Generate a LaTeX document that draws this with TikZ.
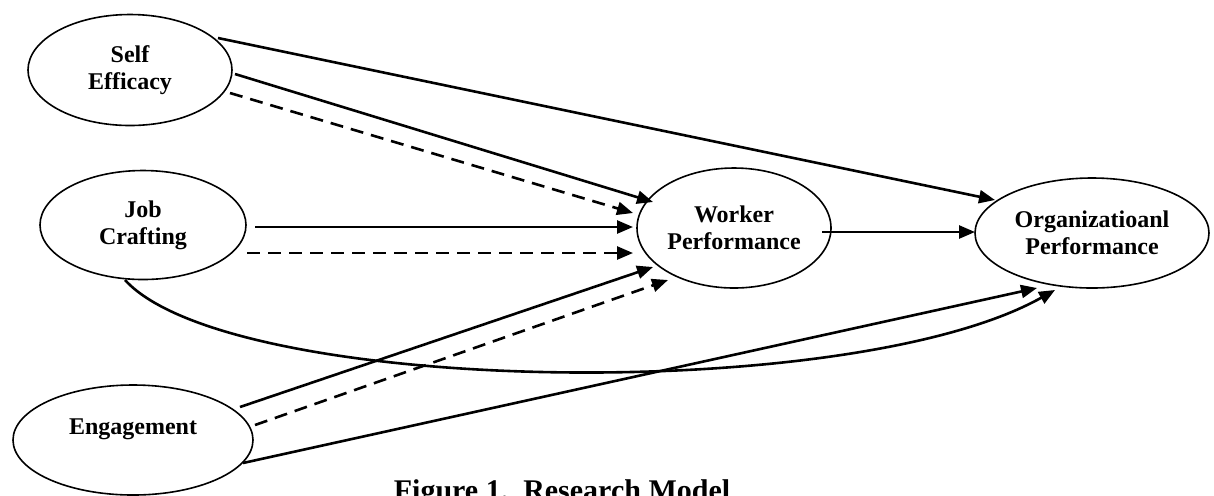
\documentclass[tikz,border=0pt]{standalone}
\usepackage{fontspec}
\setmainfont{Liberation Serif}
\usetikzlibrary{arrows.meta,shapes.geometric,calc}
\begin{document}
\begin{tikzpicture}[x=0.5pt,y=-0.5pt,
  var/.style={ellipse,draw,line width=0.8pt,inner sep=0pt,align=center,
    font=\bfseries\fontsize{12pt}{13.5pt}\selectfont},
  conn/.style={line width=1.3pt,-{Triangle[length=8pt,width=6.5pt]}},
  dconn/.style={conn,dash pattern=on 6.5pt off 4pt}]
\useasboundingbox (0,0) rectangle (1214,495);
\fill[white] (0,0) rectangle (1214,495);
\clip (0,0) rectangle (1214,495);
% variables
\node[var,minimum width=102pt,minimum height=55.5pt] (SE) at (130,70) {Self\\Efficacy};
\node[var,minimum width=103pt,minimum height=54.5pt] (JC) at (143,225) {Job\\Crafting};
\node[var,minimum width=120pt,minimum height=55pt] (EN) at (133,440) {Engagement\\\phantom{E}};
\node[var,minimum width=97pt,minimum height=60pt] (WP) at (734,228) {Worker\\Performance};
\node[var,minimum width=117pt,minimum height=55pt] (OP) at (1092,233) {Organizatioanl\\Performance};
% connectors
\draw[conn]  ($(SE.center)+(88,-32)$) -- ($(OP.center)+(-97,-33)$);
\draw[conn]  ($(SE.center)+(105,4)$)  -- ($(WP.center)+(-81,-26)$);
\draw[dconn] ($(SE.center)+(100,23)$) -- ($(WP.center)+(-101,-15)$);
\draw[conn]  ($(JC.center)+(112,2)$)  -- ($(WP.center)+(-101,-1)$);
\draw[dconn] ($(JC.center)+(104,28)$) -- ($(WP.center)+(-101,25)$);
\draw[conn]  ($(WP.center)+(88,4)$)   -- ($(OP.center)+(-117,-1)$);
\draw[conn]  ($(JC.center)+(-18,55)$) .. controls (230,395) and (850,405) .. ($(OP.center)+(-37,57)$);
\draw[conn]  ($(EN.center)+(107,-33)$) -- ($(WP.center)+(-81,39)$);
\draw[dconn] ($(EN.center)+(122,-15)$) -- ($(WP.center)+(-66,52)$);
\draw[conn]  ($(EN.center)+(110,23)$)  -- ($(OP.center)+(-55,55)$);
% caption
\node[anchor=base,inner sep=0pt,font=\bfseries\fontsize{15pt}{18pt}\selectfont] (cap) at (562,500) {Figure 1.\ \ Research Model};
\end{tikzpicture}
\end{document}
